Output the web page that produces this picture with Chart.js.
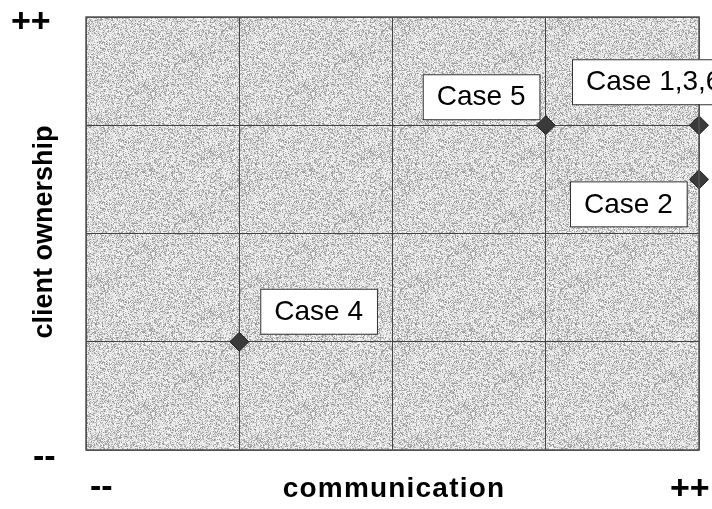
<!DOCTYPE html>
<html>
<head>
<meta charset="utf-8">
<script src="https://cdn.jsdelivr.net/npm/chart.js@4/dist/chart.umd.min.js"></script>
<style>
  body { margin: 0; background: #fff; }
  #wrap { width: 712px; height: 509px; position: relative; }
</style>
</head>
<body>
<div id="wrap"><canvas id="chart"></canvas></div>
<script>
// case positions on the two axes (0 = --, 4 = ++)
const caseNames = ["Case 5", "Case 1,3,6", "Case 2", "Case 4"];
const communication = [3, 4, 4, 1];
const clientOwnership = [3, 3, 2.5, 1];

// label box offsets relative to each point (px)
const labelOffsets = [
  { dx: -123, dy: -51 },
  { dx: -127, dy: -66 },
  { dx: -129, dy: 2 },
  { dx: 21, dy: -53 }
];

const axisTitleX = "communication";
const axisTitleY = "client ownership";

// stippled grey texture
function makeNoise() {
  const c = document.createElement("canvas");
  c.width = 160; c.height = 160;
  const g = c.getContext("2d");
  const img = g.createImageData(160, 160);
  let seed = 12345;
  function rnd() {
    seed = (seed * 1103515245 + 12345) % 2147483648;
    return seed / 2147483648;
  }
  for (let i = 0; i < img.data.length; i += 4) {
    const r = rnd();
    const v = r < 0.3 ? 145 + rnd() * 45 : 205 + rnd() * 50;
    img.data[i] = img.data[i + 1] = img.data[i + 2] = v;
    img.data[i + 3] = 255;
  }
  g.putImageData(img, 0, 0);
  return c;
}

const bgPlugin = {
  id: "bg",
  beforeDraw(chart) {
    const { ctx, chartArea: a } = chart;
    ctx.save();
    ctx.fillStyle = ctx.createPattern(makeNoise(), "repeat");
    ctx.fillRect(a.left, a.top, a.right - a.left, a.bottom - a.top);
    ctx.restore();
  }
};

const textPlugin = {
  id: "texts",
  afterDraw(chart) {
    const { ctx, chartArea: a } = chart;
    ctx.save();
    // border of plot
    ctx.strokeStyle = "#555";
    ctx.lineWidth = 1.5;
    ctx.strokeRect(a.left, a.top, a.right - a.left, a.bottom - a.top);

    ctx.fillStyle = "#000";
    ctx.font = "bold 34px 'Liberation Sans', Arial";
    ctx.textBaseline = "alphabetic";
    ctx.textAlign = "left";
    ctx.fillText("++", 11, 32);
    ctx.fillText("++", 670, 499);
    ctx.fillText("--", 33, 467);
    ctx.fillText("--", 90, 497);

    ctx.font = "bold 28px 'Liberation Sans', Arial";
    ctx.textAlign = "center";
    ctx.letterSpacing = "1.2px";
    ctx.fillText(axisTitleX, 394, 497);
    ctx.letterSpacing = "0px";

    ctx.font = "bold 27px 'Liberation Sans', Arial";
    ctx.save();
    ctx.translate(52, 232);
    ctx.rotate(-Math.PI / 2);
    ctx.fillText(axisTitleY, 0, 0);
    ctx.restore();

    // case labels
    const meta = chart.getDatasetMeta(0);
    ctx.font = "28px 'Liberation Sans', Arial";
    ctx.textAlign = "left";
    ctx.textBaseline = "middle";
    meta.data.forEach((pt, i) => {
      const off = labelOffsets[i];
      const tw = ctx.measureText(caseNames[i]).width;
      const bx = pt.x + off.dx, by = pt.y + off.dy;
      const bw = tw + 28, bh = 45;
      ctx.fillStyle = "#fff";
      ctx.fillRect(bx, by, bw, bh);
      ctx.strokeStyle = "#333";
      ctx.lineWidth = 1;
      ctx.strokeRect(bx + 0.5, by + 0.5, bw, bh);
      ctx.fillStyle = "#000";
      ctx.fillText(caseNames[i], bx + 14, by + bh / 2 + 1);
    });
    ctx.restore();
  }
};

new Chart(document.getElementById("chart"), {
  type: "scatter",
  data: {
    datasets: [{
      data: communication.map((v, i) => ({ x: v, y: clientOwnership[i] })),
      pointStyle: "rectRot",
      pointRadius: 9.5,
      pointHoverRadius: 9.5,
      backgroundColor: "#3a3a3a",
      borderColor: "#222",
      borderWidth: 1,
      clip: false
    }]
  },
  options: {
    responsive: true,
    maintainAspectRatio: false,
    animation: false,
    layout: { padding: { left: 86, top: 17, right: 13, bottom: 59 } },
    plugins: { legend: { display: false }, tooltip: { enabled: false } },
    scales: {
      x: {
        min: 0, max: 4,
        ticks: { display: false, stepSize: 1 },
        grid: { color: "#444", lineWidth: 1, drawTicks: false },
        border: { display: false }
      },
      y: {
        min: 0, max: 4,
        ticks: { display: false, stepSize: 1 },
        grid: { color: "#444", lineWidth: 1, drawTicks: false },
        border: { display: false }
      }
    }
  },
  plugins: [bgPlugin, textPlugin]
});
</script>
</body>
</html>
